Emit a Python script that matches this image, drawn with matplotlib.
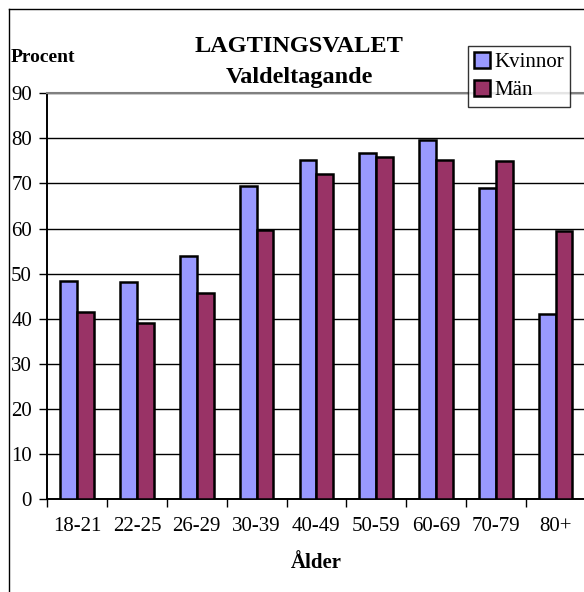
import matplotlib
matplotlib.use("Agg")
import matplotlib.pyplot as plt
from matplotlib.patches import Patch
from matplotlib.lines import Line2D
import numpy as np

plt.rcParams['font.family'] = ['Liberation Serif', 'DejaVu Serif']

# data
ages = ['18-21', '22-25', '26-29', '30-39', '40-49', '50-59', '60-69', '70-79', '80+']
kvinnor = [48.4, 48.2, 53.9, 69.5, 75.1, 76.8, 79.6, 69.0, 41.0]
man = [41.5, 39.0, 45.7, 59.6, 72.1, 75.8, 75.3, 75.0, 59.5]

W, H = 584, 592
fig = plt.figure(figsize=(W / 100, H / 100), dpi=100)

def fx(x):
    return x / W

def fy(y):
    return 1 - y / H

# outer chart frame (cut off on right and bottom)
fig.add_artist(Line2D([fx(9), fx(9)], [fy(9), 0], color='black', lw=1))
fig.add_artist(Line2D([fx(9), 1], [fy(9), fy(9)], color='black', lw=1))

left, right, top, bottom = 47.3, 585.5, 93.3, 499
ax = fig.add_axes([fx(left), fy(bottom), (right - left) / W, (bottom - top) / H])

x = np.arange(len(ages))
bw = 0.28
ax.bar(x - bw / 2, kvinnor, bw, color='#9999FF', edgecolor='black', linewidth=1.8, zorder=3)
ax.bar(x + bw / 2, man, bw, color='#993366', edgecolor='black', linewidth=1.8, zorder=3)

ax.set_xlim(-0.5, len(ages) - 0.5)
ax.set_ylim(0, 90)
ax.set_yticks(np.arange(0, 91, 10))
ax.yaxis.grid(True, color='black', linewidth=1.0, zorder=0)
ax.set_xticks(x)
ax.set_xticklabels(ages, fontsize=15)
ax.set_xticks(np.arange(-0.5, len(ages), 1), minor=True)
ax.tick_params(axis='x', which='major', length=0, pad=13)
ax.tick_params(axis='x', which='minor', length=6, width=1, direction='out')
ax.tick_params(axis='y', length=6, width=1, direction='out', labelsize=15, pad=5)

ax.spines['right'].set_visible(False)
ax.spines['top'].set_color('#808080')
ax.spines['top'].set_linewidth(1.5)
ax.spines['left'].set_linewidth(1.4)
ax.spines['bottom'].set_linewidth(1.4)

fig.text(fx(299), fy(47), 'LAGTINGSVALET', fontsize=17.5, fontweight='bold', ha='center', va='center')
fig.text(fx(299), fy(77), 'Valdeltagande', fontsize=17.5, fontweight='bold', ha='center', va='center')
fig.text(fx(11), fy(58), 'Procent', fontsize=14, fontweight='bold', ha='left', va='center')
fig.text(fx(316), fy(563), 'Ålder', fontsize=15, fontweight='bold', ha='center', va='center')

handles = [Patch(facecolor='#9999FF', edgecolor='black', linewidth=1.8),
           Patch(facecolor='#993366', edgecolor='black', linewidth=1.8)]
leg = fig.legend(handles, ['Kvinnor', 'Män'], loc='upper left',
                 bbox_to_anchor=(fx(468), fy(46)),
                 prop={'family': ['Liberation Serif'], 'size': 15},
                 frameon=True, fancybox=False, handlelength=0.75, handleheight=0.75,
                 handletextpad=0.2, borderpad=0.3, labelspacing=0.4,
                 borderaxespad=0)
leg.get_frame().set_edgecolor('black')
leg.get_frame().set_linewidth(1)

fig.savefig('out.png', dpi=100)
